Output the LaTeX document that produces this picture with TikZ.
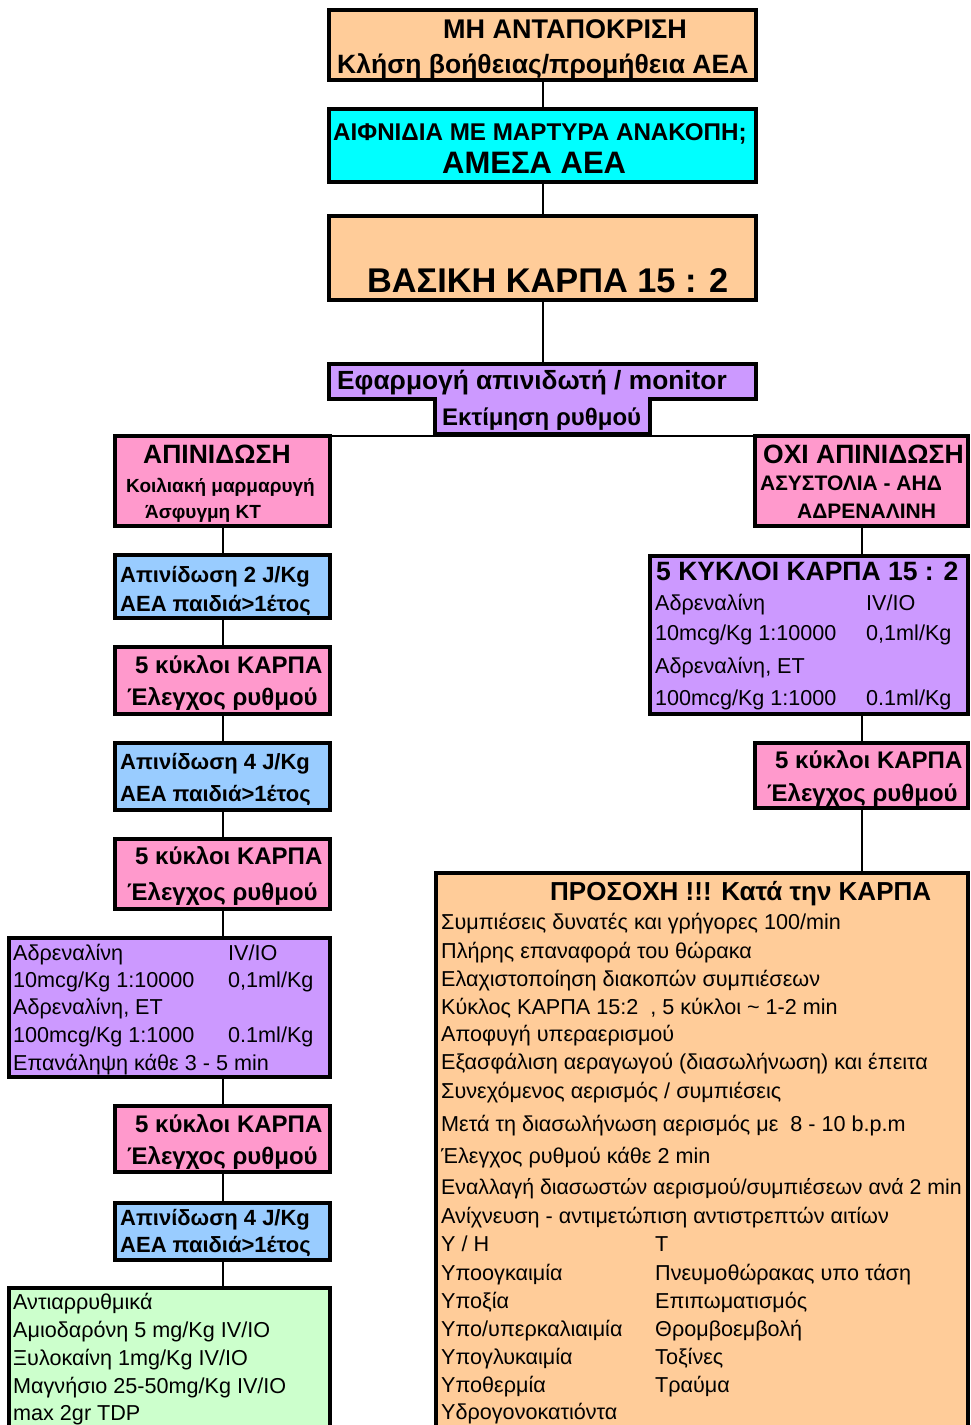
\documentclass[tikz,border=0pt]{standalone}
\usepackage{fontspec}
\setmainfont{Liberation Sans}
\definecolor{peach}{HTML}{FFCC99}
\definecolor{aqua}{HTML}{00FFFF}
\definecolor{lilac}{HTML}{CC99FF}
\definecolor{rose}{HTML}{FF99CC}
\definecolor{sky}{HTML}{99CCFF}
\definecolor{mint}{HTML}{CCFFCC}
\begin{document}
\begin{tikzpicture}[x=1pt, y=-1pt,
    box/.style={draw, line width=3.5pt, anchor=north west, inner sep=0pt, outer sep=0pt},
    pane/.style={anchor=north west, inner sep=0pt, outer sep=0pt},
    txt/.style={anchor=base west, inner sep=0pt},
    huge/.style={txt, font=\fontsize{34.3}{37}\selectfont\bfseries},
    bigb/.style={txt, font=\fontsize{26.5}{29}\selectfont\bfseries},
    midb/.style={txt, font=\fontsize{24}{27}\selectfont\bfseries},
    shkb/.style={txt, font=\fontsize{22}{25}\selectfont\bfseries},
    smlb/.style={txt, font=\fontsize{19}{22}\selectfont\bfseries},
    body/.style={txt, font=\fontsize{21.6}{24}\selectfont},
    link/.style={line width=2pt}
]
    \useasboundingbox (0,0) rectangle (970,1425);
    \clip (0,0) rectangle (970,1425);

    % Main chain
    \node[box, fill=peach, minimum width=427, minimum height=70] (resp) at (329,10) {};
    \node[box, fill=aqua, minimum width=427, minimum height=73] (witn) at (329,109) {};
    \node[box, fill=peach, minimum width=427, minimum height=84] (basic) at (329,216) {};
    \node[pane, fill=lilac, minimum width=427, minimum height=35] (mon) at (329,364) {};
    \node[pane, fill=lilac, minimum width=215, minimum height=35] (rhythm) at (435,399) {};
    \draw[line width=3.5pt, line join=miter] (mon.north west) -- (mon.north east) -- (mon.south east)
        -- (rhythm.north east) -- (rhythm.south east) -- (rhythm.south west)
        -- (rhythm.north west) -- (mon.south west) -- cycle;

    \node[bigb, font=\fontsize{27}{30}\selectfont\bfseries] (resp1) at (443,38) {ΜΗ ΑΝΤΑΠΟΚΡΙΣΗ};
    \node[bigb] (resp2) at (337,73) {Κλήση βοήθειας/προμήθεια ΑΕΑ};
    \node[txt, font=\fontsize{24.2}{27}\selectfont\bfseries] (witn1) at (333,140) {ΑΙΦΝΙΔΙΑ ΜΕ ΜΑΡΤΥΡΑ ΑΝΑΚΟΠΗ;};
    \node[txt, font=\fontsize{31}{34}\selectfont\bfseries] (witn2) at (442,173) {ΑΜΕΣΑ ΑΕΑ};
    \node[huge] (basic1) at (367,292) {ΒΑΣΙΚΗ ΚΑΡΠΑ 15 : 2};
    \node[txt, font=\fontsize{26.3}{29}\selectfont\bfseries] (mon1) at (337,389) {Εφαρμογή απινιδωτή / monitor};
    \node[txt, font=\fontsize{24}{27}\selectfont\bfseries] (rhythm1) at (442,425) {Εκτίμηση ρυθμού};

    % Shockable branch
    \node[box, fill=rose, minimum width=215, minimum height=90] (shk) at (115,436) {};
    \node[box, fill=sky, minimum width=215, minimum height=63] (def1) at (115,555) {};
    \node[box, fill=rose, minimum width=215, minimum height=67] (cpr1) at (115,647) {};
    \node[box, fill=sky, minimum width=215, minimum height=67] (def2) at (115,743) {};
    \node[box, fill=rose, minimum width=215, minimum height=70] (cpr2) at (115,839) {};
    \node[box, fill=lilac, minimum width=321, minimum height=139] (adrL) at (9,938) {};
    \node[box, fill=rose, minimum width=215, minimum height=66] (cpr3) at (115,1106) {};
    \node[box, fill=sky, minimum width=215, minimum height=57] (def3) at (115,1203) {};
    \node[box, fill=mint, minimum width=321, minimum height=160] (anti) at (9,1288) {};

    \node[bigb] (shk1) at (143,463) {ΑΠΙΝΙΔΩΣΗ};
    \node[smlb] (shk2) at (126,492) {Κοιλιακή μαρμαρυγή};
    \node[smlb] (shk3) at (145,518) {Άσφυγμη ΚΤ};
    \node[shkb] (def1a) at (120,582) {Απινίδωση 2 J/Kg};
    \node[shkb] (def1b) at (120,611) {ΑΕΑ παιδιά>1έτος};
    \node[midb] (cpr1a) at (135,673) {5 κύκλοι ΚΑΡΠΑ};
    \node[midb] (cpr1b) at (127,705) {Έλεγχος ρυθμού};
    \node[shkb] (def2a) at (120,769) {Απινίδωση 4 J/Kg};
    \node[shkb] (def2b) at (120,801) {ΑΕΑ παιδιά>1έτος};
    \node[midb] (cpr2a) at (135,864) {5 κύκλοι ΚΑΡΠΑ};
    \node[midb] (cpr2b) at (127,900) {Έλεγχος ρυθμού};
    \node[body] (adrL1) at (13,960) {Αδρεναλίνη};
    \node[body] (adrL1r) at (228,960) {IV/IO};
    \node[body] (adrL2) at (13,987) {10mcg/Kg 1:10000};
    \node[body] (adrL2r) at (228,987) {0,1ml/Kg};
    \node[body] (adrL3) at (13,1014) {Αδρεναλίνη, ΕΤ};
    \node[body] (adrL4) at (13,1042) {100mcg/Kg 1:1000};
    \node[body] (adrL4r) at (228,1042) {0.1ml/Kg};
    \node[body] (adrL5) at (13,1070) {Επανάληψη κάθε 3 - 5 min};
    \node[midb] (cpr3a) at (135,1132) {5 κύκλοι ΚΑΡΠΑ};
    \node[midb] (cpr3b) at (127,1164) {Έλεγχος ρυθμού};
    \node[shkb] (def3a) at (120,1225) {Απινίδωση 4 J/Kg};
    \node[shkb] (def3b) at (120,1252) {ΑΕΑ παιδιά>1έτος};
    \node[body] (anti1) at (13,1309) {Αντιαρρυθμικά};
    \node[body] (anti2) at (13,1337) {Αμιοδαρόνη 5 mg/Kg IV/IO};
    \node[body] (anti3) at (13,1365) {Ξυλοκαίνη 1mg/Kg IV/IO};
    \node[body] (anti4) at (13,1393) {Μαγνήσιο 25-50mg/Kg IV/IO};
    \node[body] (anti5) at (13,1420) {max 2gr TDP};

    % Non-shockable branch
    \node[box, fill=rose, minimum width=213, minimum height=90] (nshk) at (755,436) {};
    \node[box, fill=lilac, minimum width=318, minimum height=158] (adrR) at (650,556) {};
    \node[box, fill=rose, minimum width=213, minimum height=65] (cprR) at (755,743) {};
    \node[box, fill=peach, minimum width=532, minimum height=570] (care) at (436,873) {};

    \node[bigb] (nshk1) at (763,463) {ΟΧΙ ΑΠΙΝΙΔΩΣΗ};
    \node[smlb, font=\fontsize{21}{24}\selectfont\bfseries] (nshk2) at (760,490) {ΑΣΥΣΤΟΛΙΑ - ΑΗΔ};
    \node[smlb, font=\fontsize{21}{24}\selectfont\bfseries] (nshk3) at (797,518) {ΑΔΡΕΝΑΛΙΝΗ};
    \node[bigb] (adrR1) at (656,580) {5 ΚΥΚΛΟΙ ΚΑΡΠΑ 15 : 2};
    \node[body] (adrR2) at (655,610) {Αδρεναλίνη};
    \node[body] (adrR2r) at (866,610) {IV/IO};
    \node[body] (adrR3) at (655,640) {10mcg/Kg 1:10000};
    \node[body] (adrR3r) at (866,640) {0,1ml/Kg};
    \node[body] (adrR4) at (655,673) {Αδρεναλίνη, ΕΤ};
    \node[body] (adrR5) at (655,705) {100mcg/Kg 1:1000};
    \node[body] (adrR5r) at (866,705) {0.1ml/Kg};
    \node[midb] (cprRa) at (775,768) {5 κύκλοι ΚΑΡΠΑ};
    \node[midb] (cprRb) at (767,801) {Έλεγχος ρυθμού};

    % Care notes
    \node[txt, font=\fontsize{26}{29}\selectfont\bfseries] (care0) at (550,900) {ΠΡΟΣΟΧΗ !!! Κατά την ΚΑΡΠΑ};
    \node[body] (care1) at (441,929) {Συμπιέσεις δυνατές και γρήγορες 100/min};
    \node[body] (care2) at (441,958) {Πλήρης επαναφορά του θώρακα};
    \node[body] (care3) at (441,986) {Ελαχιστοποίηση διακοπών συμπιέσεων};
    \node[body] (care4) at (441,1014) {Κύκλος ΚΑΡΠΑ 15:2\ \ , 5 κύκλοι \textasciitilde{} 1-2 min};
    \node[body] (care5) at (441,1041) {Αποφυγή υπεραερισμού};
    \node[body] (care6) at (441,1069) {Εξασφάλιση αεραγωγού (διασωλήνωση) και έπειτα};
    \node[body] (care7) at (441,1098) {Συνεχόμενος αερισμός / συμπιέσεις};
    \node[body] (care8) at (441,1131) {Μετά τη διασωλήνωση αερισμός με\ \ 8 - 10 b.p.m};
    \node[body] (care9) at (441,1163) {Έλεγχος ρυθμού κάθε 2 min};
    \node[body, font=\fontsize{21.3}{24}\selectfont] (care10) at (441,1194) {Εναλλαγή διασωστών αερισμού/συμπιέσεων ανά 2 min};
    \node[body] (care11) at (441,1223) {Ανίχνευση - αντιμετώπιση αντιστρεπτών αιτίων};
    \node[body] (care12) at (441,1251) {Υ / Η};
    \node[body] (care12r) at (655,1251) {Τ};
    \node[body] (care13) at (441,1280) {Υποογκαιμία};
    \node[body] (care13r) at (655,1280) {Πνευμοθώρακας υπο τάση};
    \node[body] (care14) at (441,1308) {Υποξία};
    \node[body] (care14r) at (655,1308) {Επιπωματισμός};
    \node[body] (care15) at (441,1336) {Υπο/υπερκαλιαιμία};
    \node[body] (care15r) at (655,1336) {Θρομβοεμβολή};
    \node[body] (care16) at (441,1364) {Υπογλυκαιμία};
    \node[body] (care16r) at (655,1364) {Τοξίνες};
    \node[body] (care17) at (441,1392) {Υποθερμία};
    \node[body] (care17r) at (655,1392) {Τραύμα};
    \node[body] (care18) at (441,1419) {Υδρογονοκατιόντα};

    % Connectors
    \draw[link] (resp.south) -- (witn.north);
    \draw[link] (witn.south) -- (basic.north);
    \draw[link] (basic.south) -- (mon.north);
    \draw[link] (shk.north east) -- (nshk.north west);
    \draw[link] (shk.south) -- (def1.north);
    \draw[link] (def1.south) -- (cpr1.north);
    \draw[link] (cpr1.south) -- (def2.north);
    \draw[link] (def2.south) -- (cpr2.north);
    \draw[link] (cpr2.south) -- (cpr2.south |- adrL.north);
    \draw[link] (cpr3.north |- adrL.south) -- (cpr3.north);
    \draw[link] (cpr3.south) -- (def3.north);
    \draw[link] (def3.south) -- (def3.south |- anti.north);
    \draw[link] (nshk.south) -- (nshk.south |- adrR.north);
    \draw[link] (nshk.south |- adrR.south) -- (cprR.north);
    \draw[link] (cprR.south) -- (cprR.south |- care.north);
\end{tikzpicture}
\end{document}
